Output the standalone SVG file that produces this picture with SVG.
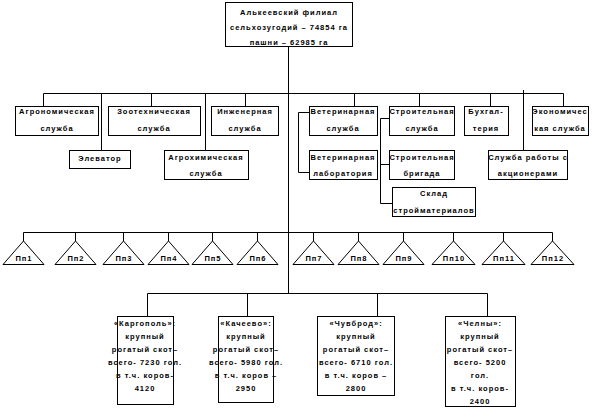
<svg xmlns="http://www.w3.org/2000/svg" width="595" height="410" viewBox="0 0 595 410">
<style>
rect.b{fill:#fff;stroke:#000;stroke-width:1}
polygon.t{fill:#fff;stroke:#000;stroke-width:1}
#connectors path{fill:none;stroke:#000;stroke-width:1}
text{font-family:"Liberation Sans",Arial,sans-serif;font-weight:bold;font-size:7.5px;letter-spacing:1px;fill:#000;text-anchor:middle}
</style>
<rect width="595" height="410" fill="#fff"/>
<g id="connectors">
<path d="M288.5 47V293.5"/>
<path d="M43.5 93.5H563.5"/>
<path d="M43.5 93.5V106M151.5 93.5V106M245.5 93.5V106M354.5 93.5V106M419.5 93.5V106M490.5 93.5V106M563.5 93.5V106"/>
<path d="M101.5 93.5V150M205.5 93.5V150M523.5 90V150"/>
<path d="M309 112.5H298.5V172.5H309"/>
<path d="M389 118.5H380.5V203.5H392M380.5 164.5H389"/>
<path d="M23.5 232.5H552.5"/>
<path d="M23.5 232.5V241M75.5 232.5V241M123.5 232.5V241M168.5 232.5V241M212.5 232.5V241M257.5 232.5V241M313.5 232.5V241M358.5 232.5V241M403.5 232.5V241M453.5 232.5V241M503.5 232.5V241M552.5 232.5V241"/>
<path d="M147.5 293.5H487.5"/>
<path d="M147.5 293.5V316M247.5 293.5V316M377.5 293.5V316M487.5 293.5V316"/>
</g>
<g id="root"><rect class="b" x="225.5" y="2.5" width="127" height="44"/>
<text x="289" y="15">Алькеевский филиал</text><text x="289" y="30">сельхозугодий – 74854 га</text><text x="289" y="45">пашни – 62985 га</text></g>
<g id="agronom"><rect class="b" x="15.5" y="106.5" width="83" height="29"/><text x="57" y="114">Агрономическая</text><text x="57" y="131">служба</text></g>
<g id="zootech"><rect class="b" x="108.5" y="106.5" width="92" height="29"/><text x="154" y="114">Зоотехническая</text><text x="154" y="131">служба</text></g>
<g id="inzhener"><rect class="b" x="211.5" y="106.5" width="67" height="29"/><text x="245" y="114">Инженерная</text><text x="245" y="131">служба</text></g>
<g id="elevator"><rect class="b" x="69.5" y="150.5" width="61" height="18"/><text x="100" y="161">Элеватор</text></g>
<g id="agrohim"><rect class="b" x="164.5" y="150.5" width="84" height="29"/><text x="206" y="160">Агрохимическая</text><text x="206" y="176">служба</text></g>
<g id="vetsluzhba"><rect class="b" x="309.5" y="106.5" width="68" height="29"/><text x="343" y="114">Ветеринарная</text><text x="343" y="131">служба</text></g>
<g id="vetlab"><rect class="b" x="309.5" y="150.5" width="68" height="29"/><text x="343" y="160">Ветеринарная</text><text x="343" y="176">лаборатория</text></g>
<g id="stroysluzhba"><rect class="b" x="389.5" y="106.5" width="65" height="29"/><text x="422" y="114">Строительная</text><text x="422" y="131">служба</text></g>
<g id="stroybrigada"><rect class="b" x="389.5" y="150.5" width="65" height="29"/><text x="422" y="160">Строительная</text><text x="422" y="176">бригада</text></g>
<g id="sklad"><rect class="b" x="392.5" y="187.5" width="83" height="29"/><text x="434" y="196">Склад</text><text x="434" y="213">стройматериалов</text></g>
<g id="buh"><rect class="b" x="464.5" y="106.5" width="44" height="29"/><text x="486" y="114">Бухгал-</text><text x="486" y="131">терия</text></g>
<g id="econom"><rect class="b" x="532.5" y="106.5" width="56" height="29"/><text x="560" y="114">Экономичес</text><text x="560" y="131">кая служба</text></g>
<g id="akcioner"><rect class="b" x="488.5" y="150.5" width="79" height="29"/><text x="528" y="160">Служба работы с</text><text x="528" y="176">акционерами</text></g>
<g id="pp1"><polygon class="t" points="23.5,241 3,264.5 44,264.5"/><text x="24" y="261">Пп1</text></g>
<g id="pp2"><polygon class="t" points="75.5,241 55,264.5 96,264.5"/><text x="76" y="261">Пп2</text></g>
<g id="pp3"><polygon class="t" points="123.5,241 103,264.5 144,264.5"/><text x="124" y="261">Пп3</text></g>
<g id="pp4"><polygon class="t" points="168.5,241 148,264.5 189,264.5"/><text x="169" y="261">Пп4</text></g>
<g id="pp5"><polygon class="t" points="212.5,241 192,264.5 233,264.5"/><text x="213" y="261">Пп5</text></g>
<g id="pp6"><polygon class="t" points="257.5,241 237,264.5 278,264.5"/><text x="258" y="261">Пп6</text></g>
<g id="pp7"><polygon class="t" points="313.5,241 293,264.5 334,264.5"/><text x="314" y="261">Пп7</text></g>
<g id="pp8"><polygon class="t" points="358.5,241 338,264.5 379,264.5"/><text x="359" y="261">Пп8</text></g>
<g id="pp9"><polygon class="t" points="403.5,241 383,264.5 424,264.5"/><text x="404" y="261">Пп9</text></g>
<g id="pp10"><polygon class="t" points="453.5,241 432,264.5 475,264.5"/><text x="454" y="261">Пп10</text></g>
<g id="pp11"><polygon class="t" points="503.5,241 482,264.5 525,264.5"/><text x="504" y="261">Пп11</text></g>
<g id="pp12"><polygon class="t" points="552.5,241 531,264.5 574,264.5"/><text x="553" y="261">Пп12</text></g>
<g id="kargopol"><rect class="b" x="117.5" y="316.5" width="56" height="88"/>
<text x="145" y="326">«Каргополь»:</text><text x="145" y="339">крупный</text><text x="145" y="352">рогатый скот–</text><text x="145" y="365">всего- 7230 гол.</text><text x="145" y="378">в т.ч. коров-</text><text x="145" y="391">4120</text></g>
<g id="kacheevo"><rect class="b" x="218.5" y="316.5" width="55" height="86"/>
<text x="246" y="326">«Качеево»:</text><text x="246" y="339">крупный</text><text x="246" y="352">рогатый скот–</text><text x="246" y="365">всего- 5980 гол.</text><text x="246" y="378">в т.ч. коров –</text><text x="246" y="391">2950</text></g>
<g id="chuvbrod"><rect class="b" x="317.5" y="316.5" width="77" height="79"/>
<text x="356" y="326">«Чувброд»:</text><text x="356" y="339">крупный</text><text x="356" y="352">рогатый скот–</text><text x="356" y="365">всего- 6710 гол.</text><text x="356" y="378">в т.ч. коров –</text><text x="356" y="391">2800</text></g>
<g id="chelny"><rect class="b" x="445.5" y="316.5" width="70" height="90"/>
<text x="480" y="326">«Челны»:</text><text x="480" y="339">крупный</text><text x="480" y="352">рогатый скот–</text><text x="480" y="365">всего- 5200</text><text x="480" y="378">гол.</text><text x="480" y="391">в т.ч. коров-</text><text x="480" y="404">2400</text></g>
</svg>
